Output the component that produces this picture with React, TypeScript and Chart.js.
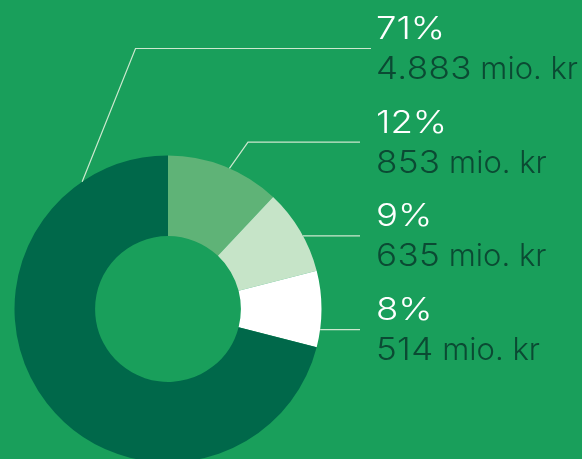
import React, { useEffect, useRef } from 'react';
import { Chart, registerables } from 'chart.js';

Chart.register(...registerables);

// Data (clockwise from 12 o'clock)
const shares = [12, 9, 8, 71];
const shareLabels = ['12%', '9%', '8%', '71%'];
const amounts = ['853', '635', '514', '4.883'];
const unit = 'mio. kr';
// label rows, top to bottom (indices into the data arrays)
const labelOrder = [3, 0, 1, 2];

const BG = '#199f5b';
const COLORS = ['#5fb377', '#c6e4c8', '#ffffff', '#00684a'];
const LINE_COLOR = '#cde8cf';
const TEXT_DARK = '#0b4a33';
const FONT = 'Inter, Lato, sans-serif';

function drawWide(ctx: any, text: string, x: number, y: number, stretch: number, spacing: number) {
  ctx.save();
  ctx.letterSpacing = `${spacing}px`;
  ctx.translate(x, y);
  ctx.scale(stretch, 1);
  ctx.fillText(text, 0, 0);
  const w = (ctx.measureText(text).width - spacing) * stretch;
  ctx.restore();
  return w;
}

const labelPlugin = {
  id: 'leaderLabels',
  afterDraw(chart: any) {
    const ctx = chart.ctx as any;
    const meta = chart.getDatasetMeta(0);
    const first = meta.data[0];
    const cx = first.x;
    const cy = first.y;
    const r = first.outerRadius;
    const textX = 376;
    const row0 = 39;
    const step = 93.7;

    ctx.save();
    labelOrder.forEach((idx, row) => {
      const baseY = row0 + row * step;
      const lineY = baseY + 9.5;
      ctx.strokeStyle = LINE_COLOR;
      ctx.lineWidth = 1.2;
      ctx.beginPath();
      if (row === 0) {
        const a = (-34 * Math.PI) / 180;
        const sx = cx + r * Math.sin(a);
        const sy = cy - r * Math.cos(a);
        ctx.moveTo(sx, sy);
        ctx.lineTo(135.5, lineY);
        ctx.lineTo(371, lineY);
      } else if (row === 1) {
        const a = (23.6 * Math.PI) / 180;
        const sx = cx + r * Math.sin(a);
        const sy = cy - r * Math.cos(a);
        ctx.moveTo(sx, sy);
        ctx.lineTo(248, lineY);
        ctx.lineTo(360, lineY);
      } else {
        const dy = lineY - cy;
        const sx = cx + Math.sqrt(Math.max(r * r - dy * dy, 0));
        ctx.moveTo(sx, lineY);
        ctx.lineTo(360, lineY);
      }
      ctx.stroke();

      ctx.textAlign = 'left';
      ctx.textBaseline = 'alphabetic';
      ctx.font = `300 31px ${FONT}`;
      ctx.fillStyle = '#ffffff';
      drawWide(ctx, shareLabels[idx], textX, baseY, 1.18, 0);
      ctx.fillStyle = TEXT_DARK;
      const nw = drawWide(ctx, amounts[idx], textX, baseY + 40, 1.13, 0.3);
      ctx.letterSpacing = '0px';
      ctx.fillText(unit, textX + nw + 9, baseY + 40);
    });
    ctx.restore();
  },
};

export default function App() {
  const ref = useRef<HTMLCanvasElement>(null);
  useEffect(() => {
    if (!ref.current) return;
    const chart = new Chart(ref.current, {
      type: 'doughnut',
      data: {
        labels: shareLabels,
        datasets: [
          {
            data: shares,
            backgroundColor: COLORS,
            borderWidth: 0,
          },
        ],
      },
      options: {
        animation: false,
        responsive: true,
        maintainAspectRatio: false,
        cutout: '47.5%',
        layout: { padding: { left: 14.5, top: 155.5, right: 260.5, bottom: 17.5 } },
        plugins: {
          legend: { display: false },
          tooltip: { enabled: false },
        },
      },
      plugins: [labelPlugin],
    });
    return () => chart.destroy();
  }, []);

  return (
    <div
      style={{
        position: 'absolute',
        left: 0,
        top: 0,
        width: 582,
        height: 459,
        overflow: 'hidden',
        background: BG,
      }}
    >
      <div style={{ position: 'relative', width: 582, height: 480 }}>
        <canvas ref={ref} />
      </div>
    </div>
  );
}
